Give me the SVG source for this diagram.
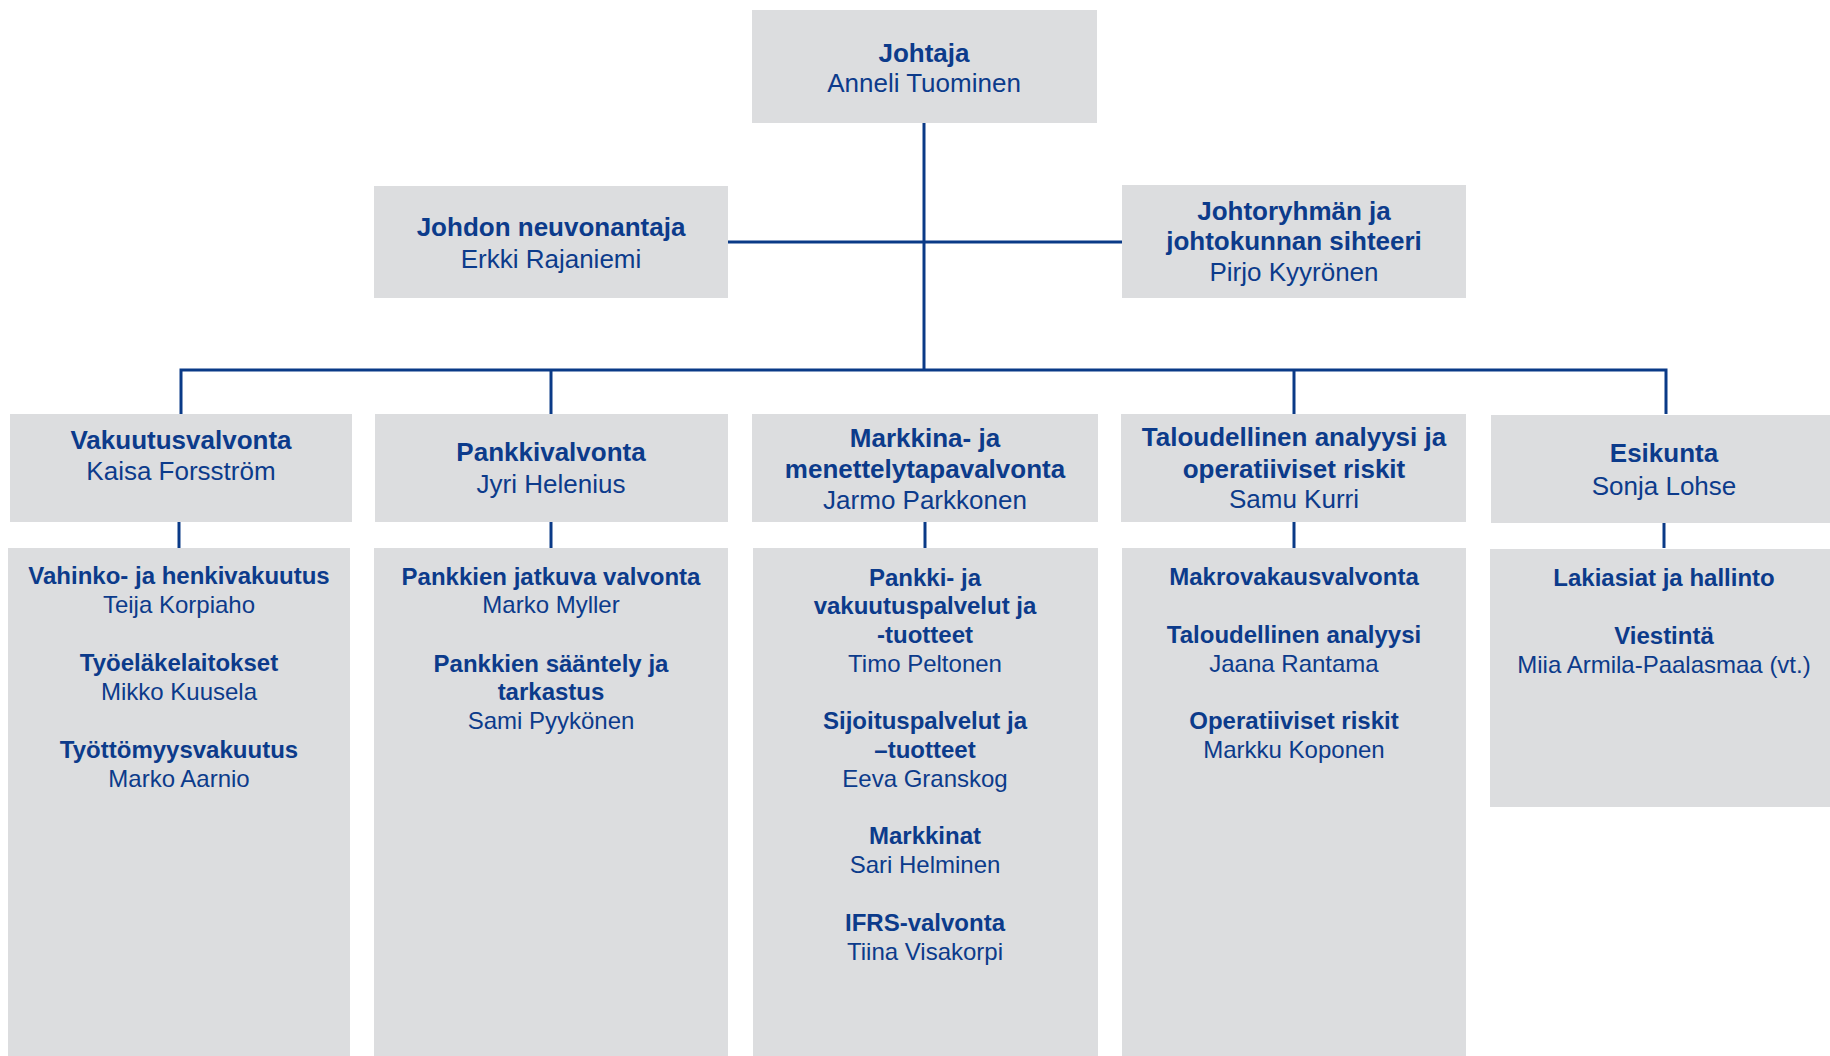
<svg xmlns="http://www.w3.org/2000/svg" width="1830" height="1056" viewBox="0 0 1830 1056">
<style>
.box{fill:#dcdddf}
.ln{stroke:#0a3a87;stroke-width:3;fill:none}
text{font-family:"Liberation Sans",Arial,sans-serif;fill:#0c3b8b;text-anchor:middle}
.h{font-size:26px;font-weight:bold}
.n{font-size:26px}
.sh{font-size:24px;font-weight:bold}
.sn{font-size:24px}
</style>
<rect width="1830" height="1056" fill="#ffffff"/>
<g id="connectors">
<path class="ln" d="M924 123V370"/>
<path class="ln" d="M728 242H1122"/>
<path class="ln" d="M181 414V370H1666V414"/>
<path class="ln" d="M551 370V414"/>
<path class="ln" d="M1294 370V414"/>
<path class="ln" d="M179 522V548"/>
<path class="ln" d="M551 522V548"/>
<path class="ln" d="M925 522V548"/>
<path class="ln" d="M1294 522V548"/>
<path class="ln" d="M1664 522V548"/>
</g>
<g id="johtaja">
<rect class="box" x="752" y="10" width="345" height="113"/>
<text class="h" x="924" y="62">Johtaja</text>
<text class="n" x="924" y="92">Anneli Tuominen</text>
</g>
<g id="neuvonantaja">
<rect class="box" x="374" y="186" width="354" height="112"/>
<text class="h" x="551" y="236">Johdon neuvonantaja</text>
<text class="n" x="551" y="268">Erkki Rajaniemi</text>
</g>
<g id="sihteeri">
<rect class="box" x="1122" y="185" width="344" height="113"/>
<text class="h" x="1294" y="220">Johtoryhmän ja</text>
<text class="h" x="1294" y="250">johtokunnan sihteeri</text>
<text class="n" x="1294" y="281">Pirjo Kyyrönen</text>
</g>
<g id="vakuutusvalvonta">
<rect class="box" x="10" y="414" width="342" height="108"/>
<text class="h" x="181" y="449">Vakuutusvalvonta</text>
<text class="n" x="181" y="480">Kaisa Forsström</text>
</g>
<g id="pankkivalvonta">
<rect class="box" x="375" y="414" width="353" height="108"/>
<text class="h" x="551" y="461">Pankkivalvonta</text>
<text class="n" x="551" y="493">Jyri Helenius</text>
</g>
<g id="markkinavalvonta">
<rect class="box" x="752" y="414" width="346" height="108"/>
<text class="h" x="925" y="447">Markkina- ja</text>
<text class="h" x="925" y="478">menettelytapavalvonta</text>
<text class="n" x="925" y="509">Jarmo Parkkonen</text>
</g>
<g id="taloudellinen">
<rect class="box" x="1121" y="414" width="345" height="108"/>
<text class="h" x="1294" y="446">Taloudellinen analyysi ja</text>
<text class="h" x="1294" y="478">operatiiviset riskit</text>
<text class="n" x="1294" y="508">Samu Kurri</text>
</g>
<g id="esikunta">
<rect class="box" x="1491" y="415" width="339" height="108"/>
<text class="h" x="1664" y="462">Esikunta</text>
<text class="n" x="1664" y="495">Sonja Lohse</text>
</g>
<g id="vakuutus-yksikot">
<rect class="box" x="8" y="548" width="342" height="508"/>
<text class="sh" x="179" y="584">Vahinko- ja henkivakuutus</text>
<text class="sn" x="179" y="613">Teija Korpiaho</text>
<text class="sh" x="179" y="671">Työeläkelaitokset</text>
<text class="sn" x="179" y="700">Mikko Kuusela</text>
<text class="sh" x="179" y="758">Työttömyysvakuutus</text>
<text class="sn" x="179" y="787">Marko Aarnio</text>
</g>
<g id="pankki-yksikot">
<rect class="box" x="374" y="548" width="354" height="508"/>
<text class="sh" x="551" y="585">Pankkien jatkuva valvonta</text>
<text class="sn" x="551" y="613">Marko Myller</text>
<text class="sh" x="551" y="672">Pankkien sääntely ja</text>
<text class="sh" x="551" y="700">tarkastus</text>
<text class="sn" x="551" y="729">Sami Pyykönen</text>
</g>
<g id="markkina-yksikot">
<rect class="box" x="753" y="548" width="345" height="508"/>
<text class="sh" x="925" y="586">Pankki- ja</text>
<text class="sh" x="925" y="614">vakuutuspalvelut ja</text>
<text class="sh" x="925" y="643">-tuotteet</text>
<text class="sn" x="925" y="672">Timo Peltonen</text>
<text class="sh" x="925" y="729">Sijoituspalvelut ja</text>
<text class="sh" x="925" y="758">–tuotteet</text>
<text class="sn" x="925" y="787">Eeva Granskog</text>
<text class="sh" x="925" y="844">Markkinat</text>
<text class="sn" x="925" y="873">Sari Helminen</text>
<text class="sh" x="925" y="931">IFRS-valvonta</text>
<text class="sn" x="925" y="960">Tiina Visakorpi</text>
</g>
<g id="talous-yksikot">
<rect class="box" x="1122" y="548" width="344" height="508"/>
<text class="sh" x="1294" y="585">Makrovakausvalvonta</text>
<text class="sh" x="1294" y="643">Taloudellinen analyysi</text>
<text class="sn" x="1294" y="672">Jaana Rantama</text>
<text class="sh" x="1294" y="729">Operatiiviset riskit</text>
<text class="sn" x="1294" y="758">Markku Koponen</text>
</g>
<g id="esikunta-yksikot">
<rect class="box" x="1490" y="549" width="340" height="258"/>
<text class="sh" x="1664" y="586">Lakiasiat ja hallinto</text>
<text class="sh" x="1664" y="644">Viestintä</text>
<text class="sn" x="1664" y="673">Miia Armila-Paalasmaa (vt.)</text>
</g>
</svg>
